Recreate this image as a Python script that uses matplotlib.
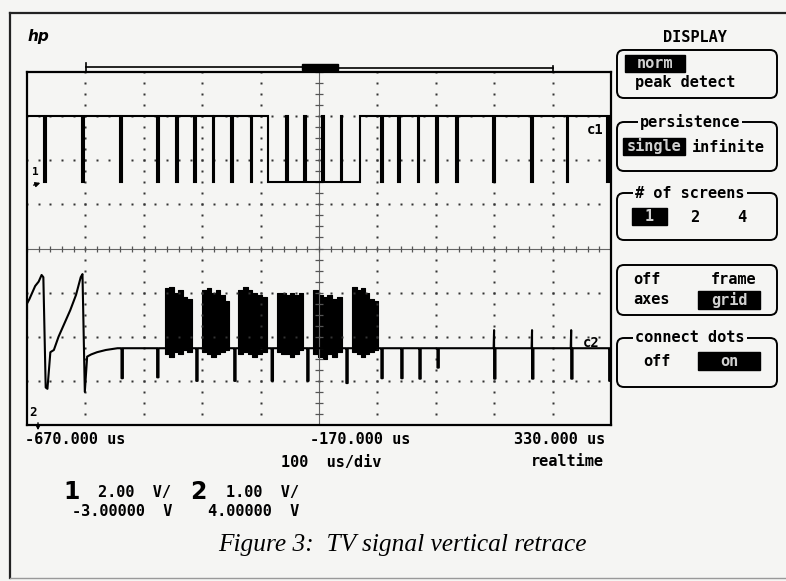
import numpy as np
import matplotlib.pyplot as plt
from matplotlib.patches import Rectangle, FancyBboxPatch

# scope settings
t_left = -670.0          # us at left edge
us_per_div = 100.0
ch1_scale, ch1_offset = 2.0, -3.0   # V/div, centre volts
ch2_scale, ch2_offset = 1.0, 4.0

# channel 1 : composite sync (volts)
ch1_high = 3.0
ch1_low = 0.0
ch1_pulses = [-639, -574, -509, -446, -413, -382, -351, -319, -286,
              -62, -33, 0, 32, 66, 130, 195, 256, 325]
ch1_vsync = (-257, -100)
ch1_serrations = [-225, -194, -163, -131]

# channel 2 : video (volts)
ch2_ramp_t = [-670, -670, -666, -661, -656, -650, -645, -642, -638, -635,
              -630, -624, -616, -606, -596, -586, -578, -575, -571, -567,
              -560, -550, -535, -515]
ch2_ramp_v = [2.42, 2.75, 2.85, 3.0, 3.15, 3.25, 3.4, 3.35, 0.85, 0.82,
              1.65, 1.7, 2.0, 2.3, 2.6, 2.95, 3.35, 3.42, 0.75, 1.55,
              1.6, 1.65, 1.7, 1.74]
ch2_base = 1.74
ch2_pulses = [-507, -446, -379, -314, -250, -189, -122, -62, -28, 3, 34,
              131, 196, 263, 328]
ch2_pulse_low = [1.06, 1.08, 1.0, 1.0, 1.0, 1.0, 0.95, 1.06, 1.06, 1.05,
                 1.3, 1.05, 1.05, 1.05, 1.0]
ch2_pulse_peak = [1.74, 1.74, 1.74, 1.74, 1.74, 1.74, 1.74, 1.74, 1.74,
                  1.74, 1.74, 2.15, 2.15, 2.15, 1.74]
burst_start = [-434, -370, -309, -242, -180, -113]
burst_end = [-388, -324, -259, -197, -131, -69]
burst_tops = [[3.1, 3.12, 3.0, 3.05, 2.9, 2.85],
              [3.05, 3.1, 3.0, 3.05, 2.95, 2.8],
              [3.05, 3.12, 3.05, 3.0, 2.95, 2.9],
              [3.0, 3.0, 2.95, 3.0, 2.95, 3.0],
              [3.05, 2.95, 2.9, 2.95, 2.85, 2.9],
              [3.12, 3.05, 3.1, 3.0, 2.85, 2.8]]
burst_bottoms = [[1.6, 1.55, 1.65, 1.6, 1.7, 1.65],
                 [1.65, 1.6, 1.55, 1.6, 1.65, 1.7],
                 [1.6, 1.65, 1.6, 1.55, 1.6, 1.65],
                 [1.65, 1.6, 1.6, 1.55, 1.6, 1.7],
                 [1.6, 1.55, 1.5, 1.6, 1.55, 1.65],
                 [1.65, 1.6, 1.55, 1.6, 1.65, 1.7]]

paper = '#f5f5f3'
mono = 'DejaVu Sans Mono'

fig = plt.figure(figsize=(7.86, 5.81), dpi=100, facecolor=paper)

# overlay in pixel coordinates for frame, labels and menu
ov = fig.add_axes([0, 0, 1, 1], zorder=0)
ov.set_xlim(0, 786)
ov.set_ylim(581, 0)
ov.axis('off')
ov.set_facecolor(paper)

ax = fig.add_axes([27 / 786, 1 - 425 / 581, 584 / 786, 353 / 581], zorder=1)
ax.set_facecolor('none')
ax.set_xlim(t_left, t_left + 10 * us_per_div)
ax.set_ylim(0, 8)
ax.set_xticks([])
ax.set_yticks([])
for s in ax.spines.values():
    s.set_linewidth(1.6)


def ch1_div(v):
    return 4 + (np.asarray(v, float) - ch1_offset) / ch1_scale


def ch2_div(v):
    return 4 + (np.asarray(v, float) - ch2_offset) / ch2_scale


# graticule
xdots = t_left + np.arange(0, 10.001, 0.2) * us_per_div
ydots = np.arange(0, 8.001, 0.25)
for k in range(1, 10):
    if k == 5:
        continue
    x = t_left + k * us_per_div
    ax.plot(np.full_like(ydots, x), ydots, 's', ms=1.8, color='#333', mec='none')
for k in range(1, 8):
    if k == 4:
        continue
    ax.plot(xdots, np.full_like(xdots, k), 's', ms=1.8, color='#333', mec='none')
tc = t_left + 5 * us_per_div
ax.axhline(4, color='#666', lw=0.8)
ax.axvline(tc, color='#666', lw=0.8)
ax.plot(xdots, np.full_like(xdots, 4), '|', ms=5, color='#555', mew=0.9)
ax.plot(np.full_like(ydots, tc), ydots, '_', ms=6, color='#555', mew=0.9)

# channel 1 trace
ev = [(p, 'p') for p in ch1_pulses] + [(ch1_vsync[0], 'v')]
ev.sort()
t1, v1 = [t_left], [ch1_high]
hw = 1.2
for p, kind in ev:
    if kind == 'p':
        t1 += [p - hw, p - hw, p + hw, p + hw]
        v1 += [ch1_high, ch1_low, ch1_low, ch1_high]
    else:
        t1 += [ch1_vsync[0], ch1_vsync[0]]
        v1 += [ch1_high, ch1_low]
        for s in ch1_serrations:
            t1 += [s - hw, s - hw, s + hw, s + hw]
            v1 += [ch1_low, ch1_high, ch1_high, ch1_low]
        t1 += [ch1_vsync[1], ch1_vsync[1]]
        v1 += [ch1_low, ch1_high]
t1.append(t_left + 10 * us_per_div)
v1.append(ch1_high)
ax.plot(t1, ch1_div(v1), color='black', lw=1.5, solid_joinstyle='miter')

# channel 2 trace
t2, v2 = list(ch2_ramp_t), list(ch2_ramp_v)
for p, lo, pk in zip(ch2_pulses, ch2_pulse_low, ch2_pulse_peak):
    t2 += [p - hw - 0.8, p - hw, p - hw, p + hw, p + hw]
    v2 += [ch2_base, pk, lo, lo, ch2_base]
t2.append(t_left + 10 * us_per_div)
v2.append(ch2_base)
ax.plot(t2, ch2_div(v2), color='black', lw=1.5)
for s, e, tops, bots in zip(burst_start, burst_end, burst_tops, burst_bottoms):
    edges = np.linspace(s, e, len(tops) + 1)
    ax.fill_between(edges, ch2_div(bots + bots[-1:]), ch2_div(tops + tops[-1:]),
                    step='post', color='black', lw=0.8)

# outer frame and record bar
ov.plot([10, 10], [13, 578], color='#222', lw=1.6)
ov.plot([10, 786], [13, 13], color='#222', lw=1.6)
ov.plot([10, 786], [578, 578], color='#999', lw=1.0)
ov.plot([86, 302], [67, 67], color='black', lw=1.2)
ov.plot([338, 553], [68, 68], color='black', lw=1.2)
ov.plot([86, 86], [63, 71], color='black', lw=1.2)
ov.plot([553, 553], [66, 72], color='black', lw=1.2)
ov.add_patch(Rectangle((302, 64), 36, 6, color='black'))
ov.text(28, 36, 'hp', fontsize=11, style='italic', weight='bold', va='center')

# channel markers
ov.text(35, 172, '1', family=mono, weight='bold', fontsize=8, ha='center', va='center')
ov.annotate('', xy=(43, 182), xytext=(31, 186),
            arrowprops=dict(arrowstyle='-|>', lw=1, color='black', mutation_scale=7))
ov.text(33, 413, '2', family=mono, weight='bold', fontsize=9, ha='center', va='center')
ov.annotate('', xy=(38, 433), xytext=(38, 420),
            arrowprops=dict(arrowstyle='-|>', lw=1, color='black', mutation_scale=7))
ov.text(595, 130, 'c1', family=mono, weight='bold', fontsize=10, ha='center',
        va='center', zorder=5)
ov.text(583, 343, 'c2', family=mono, weight='bold', fontsize=10, ha='left',
        va='center', zorder=5)

# time / channel readouts
fs = 11
ov.text(25, 440, '-670.000 us', family=mono, weight='bold', fontsize=fs, va='center')
ov.text(410, 440, '-170.000 us', family=mono, weight='bold', fontsize=fs,
        va='center', ha='right')
ov.text(605, 440, '330.000 us', family=mono, weight='bold', fontsize=fs,
        va='center', ha='right')
ov.text(281, 462, '100  us/div', family=mono, weight='bold', fontsize=fs, va='center')
ov.text(604, 462, 'realtime', family=mono, weight='bold', fontsize=fs,
        va='center', ha='right')
ov.text(72, 492, '1', weight='bold', fontsize=17, ha='center', va='center')
ov.text(98, 492, '2.00  V/', family=mono, weight='bold', fontsize=fs, va='center')
ov.text(198, 492, '2', weight='bold', fontsize=17, ha='center', va='center')
ov.text(226, 492, '1.00  V/', family=mono, weight='bold', fontsize=fs, va='center')
ov.text(72, 511, '-3.00000  V', family=mono, weight='bold', fontsize=fs, va='center')
ov.text(208, 511, '4.00000  V', family=mono, weight='bold', fontsize=fs, va='center')
ov.text(402, 545, 'Figure 3:  TV signal vertical retrace', family='Liberation Serif',
        style='italic', fontsize=18.3, ha='center', va='center')

# DISPLAY menu
ov.text(695, 38, 'DISPLAY', family=mono, weight='bold', fontsize=fs,
        ha='center', va='center')
boxes = [(50, 98, None), (122, 171, 'persistence'), (193, 240, '# of screens'),
         (265, 315, None), (338, 387, 'connect dots')]
for y0, y1, title in boxes:
    ov.add_patch(FancyBboxPatch((617, y0), 160, y1 - y0,
                                boxstyle='round,pad=0,rounding_size=7',
                                fc='none', ec='black', lw=1.4))
    if title:
        ov.text(690, y0, title, family=mono, weight='bold', fontsize=fs,
                ha='center', va='center', zorder=4,
                bbox=dict(fc=paper, ec='none', pad=1.5))


def hilite(x0, y0, x1, y1, label):
    ov.add_patch(Rectangle((x0, y0), x1 - x0, y1 - y0, color='black', zorder=3))
    ov.text((x0 + x1) / 2, (y0 + y1) / 2, label, family=mono, weight='bold',
            fontsize=fs, color='#d0d0d0', ha='center', va='center', zorder=4)


def label(x, y, s, ha='left'):
    ov.text(x, y, s, family=mono, weight='bold', fontsize=fs, ha=ha, va='center')


hilite(625, 55, 685, 72, 'norm')
label(635, 83, 'peak detect')
hilite(623, 138, 685, 155, 'single')
label(692, 147, 'infinite')
hilite(632, 208, 667, 225, '1')
label(695, 217, '2', ha='center')
label(742, 217, '4', ha='center')
label(633, 279, 'off')
label(756, 279, 'frame', ha='right')
label(633, 300, 'axes')
hilite(698, 291, 760, 309, 'grid')
label(643, 361, 'off')
hilite(698, 352, 760, 370, 'on')

fig.savefig('out.png', dpi=100, facecolor=paper)
